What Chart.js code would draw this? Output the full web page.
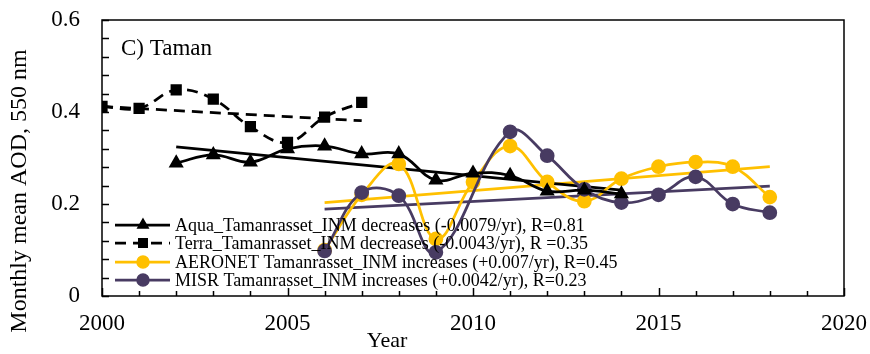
<!DOCTYPE html>
<html>
<head>
<meta charset="utf-8">
<script src="https://cdn.jsdelivr.net/npm/chart.js@4.4.0/dist/chart.umd.min.js"></script>
<style>
  body { margin: 0; background: #fff; }
  canvas { display: block; }
</style>
</head>
<body>
<canvas id="aodChart" width="870" height="354"></canvas>
<script>
// data
const terraYears = [2000, 2001, 2002, 2003, 2004, 2005, 2006, 2007];
const terraValues = [0.412, 0.408, 0.448, 0.428, 0.368, 0.334, 0.389, 0.421];

const aquaYears = [2002, 2003, 2004, 2005, 2006, 2007, 2008, 2009, 2010, 2011, 2012, 2013, 2014];
const aquaValues = [0.289, 0.307, 0.291, 0.320, 0.326, 0.309, 0.309, 0.252, 0.267, 0.262, 0.228, 0.230, 0.222];

const groundYears = [2006, 2007, 2008, 2009, 2010, 2011, 2012, 2013, 2014, 2015, 2016, 2017, 2018];
const aeronetValues = [0.100, 0.220, 0.287, 0.124, 0.248, 0.326, 0.248, 0.206, 0.255, 0.281, 0.291, 0.281, 0.215];
const misrValues = [0.098, 0.225, 0.218, 0.095, null, 0.357, 0.305, 0.232, 0.203, 0.220, 0.259, 0.200, 0.181];

// trend line ends
const aquaTrendYears = [2002, 2014];
const aquaTrend = [0.324, 0.230];
const terraTrendYears = [2000, 2007];
const terraTrend = [0.412, 0.381];
const aeronetTrendYears = [2006, 2018];
const aeronetTrend = [0.203, 0.281];
const misrTrendYears = [2006, 2018];
const misrTrend = [0.189, 0.239];

const xTicks = [2000, 2005, 2010, 2015, 2020];
const yTicks = [0, 0.2, 0.4, 0.6];

const legendLabels = [
    'Aqua_Tamanrasset_INM decreases (-0.0079/yr), R=0.81',
    'Terra_Tamanrasset_INM decreases (-0.0043/yr), R =0.35',
    'AERONET Tamanrasset_INM increases (+0.007/yr), R=0.45',
    'MISR Tamanrasset_INM increases (+0.0042/yr), R=0.23'
];

const YELLOW = '#ffc000';
const PURPLE = '#483b62';
const FONT = '"Liberation Serif", "Times New Roman", serif';
const LINE_W = 2.75;

function pts(xs, ys) {
    return xs.map((x, i) => ({ x: x, y: ys[i] }));
}

function trendSet(xs, ys, color, dash) {
    return {
        data: pts(xs, ys),
        borderColor: color,
        borderWidth: LINE_W,
        borderDash: dash || [],
        pointRadius: 0,
        tension: 0,
        order: 5
    };
}

// frame, inward ticks, panel title, axis titles, legend
const decorPlugin = {
    id: 'decor',
    afterDraw(chart) {
        const ctx = chart.ctx;
        const area = chart.chartArea;
        const xs = chart.scales.x;
        const ys = chart.scales.y;
        ctx.save();
        ctx.strokeStyle = '#000';
        ctx.lineWidth = 1.5;
        ctx.strokeRect(area.left, area.top, area.right - area.left, area.bottom - area.top);

        ctx.beginPath();
        for (let yr = 2000; yr <= 2020; yr++) {
            const px = Math.round(xs.getPixelForValue(yr)) + 0.5;
            const len = (yr % 5 === 0) ? 8 : 5;
            ctx.moveTo(px, area.bottom);
            ctx.lineTo(px, area.bottom - len);
        }
        for (let k = 0; k <= 15; k++) {
            const py = Math.round(ys.getPixelForValue(k * 0.04)) + 0.5;
            ctx.moveTo(area.left, py);
            ctx.lineTo(area.left + 7, py);
        }
        ctx.stroke();

        ctx.fillStyle = '#000';
        ctx.font = '23px ' + FONT;
        ctx.textAlign = 'left';
        ctx.textBaseline = 'alphabetic';
        ctx.fillText('C) Taman', 121, 55);

        ctx.font = '22px ' + FONT;
        ctx.textAlign = 'center';
        ctx.textBaseline = 'middle';
        ctx.fillText('Year', 387, 341);

        ctx.font = '24px ' + FONT;
        ctx.save();
        ctx.translate(20, 191);
        ctx.rotate(-Math.PI / 2);
        ctx.fillText('Monthly mean AOD, 550 nm', 0, 0);
        ctx.restore();

        // legend
        const rows = [225, 243, 262, 280];
        ctx.font = '18px ' + FONT;
        ctx.textAlign = 'left';
        ctx.textBaseline = 'middle';
        for (let i = 0; i < 4; i++) {
            const ds = chart.data.datasets[i];
            const y = rows[i];
            ctx.save();
            ctx.strokeStyle = ds.borderColor;
            ctx.lineWidth = ds.borderWidth;
            ctx.setLineDash(ds.borderDash || []);
            ctx.beginPath();
            ctx.moveTo(115, y);
            ctx.lineTo(170, y);
            ctx.stroke();
            ctx.restore();
            ctx.fillStyle = ds.pointBackgroundColor;
            ctx.strokeStyle = ds.pointBackgroundColor;
            Chart.helpers.drawPoint(ctx, {
                pointStyle: ds.pointStyle,
                radius: ds.pointRadius,
                borderWidth: 1,
                rotation: 0
            }, 143, y);
            ctx.fillStyle = '#000';
            ctx.fillText(legendLabels[i], 175, y + 1);
        }
        ctx.restore();
    }
};

const ctx = document.getElementById('aodChart').getContext('2d');

new Chart(ctx, {
    type: 'line',
    data: {
        datasets: [
            {
                label: legendLabels[0],
                data: pts(aquaYears, aquaValues),
                borderColor: '#000',
                borderWidth: LINE_W,
                pointStyle: 'triangle',
                pointRadius: 6,
                pointBackgroundColor: '#000',
                pointBorderColor: '#000',
                tension: 0.4,
                order: 1
            },
            {
                label: legendLabels[1],
                data: pts(terraYears, terraValues),
                borderColor: '#000',
                borderWidth: LINE_W,
                borderDash: [11, 7],
                pointStyle: 'rect',
                pointRadius: 6,
                pointBackgroundColor: '#000',
                pointBorderColor: '#000',
                tension: 0.4,
                order: 2
            },
            {
                label: legendLabels[2],
                data: pts(groundYears, aeronetValues),
                borderColor: YELLOW,
                borderWidth: LINE_W,
                pointStyle: 'circle',
                pointRadius: 6,
                pointBackgroundColor: YELLOW,
                pointBorderColor: YELLOW,
                tension: 0.4,
                order: 4
            },
            {
                label: legendLabels[3],
                data: pts(groundYears, misrValues),
                borderColor: PURPLE,
                borderWidth: LINE_W,
                pointStyle: 'circle',
                pointRadius: 6,
                pointBackgroundColor: PURPLE,
                pointBorderColor: PURPLE,
                tension: 0.4,
                spanGaps: true,
                order: 3
            },
            trendSet(aquaTrendYears, aquaTrend, '#000'),
            trendSet(terraTrendYears, terraTrend, '#000', [11, 7]),
            trendSet(aeronetTrendYears, aeronetTrend, YELLOW),
            trendSet(misrTrendYears, misrTrend, PURPLE)
        ]
    },
    options: {
        responsive: false,
        animation: false,
        layout: { padding: { top: 20, right: 26, left: 0, bottom: 0 } },
        plugins: {
            legend: { display: false },
            tooltip: { enabled: false }
        },
        scales: {
            x: {
                type: 'linear',
                min: 2000,
                max: 2020,
                afterFit: function(scale) {
                    scale.height = 58;
                    scale.paddingLeft = 0;
                    scale.paddingRight = 0;
                },
                afterBuildTicks: function(scale) { scale.ticks = xTicks.map(v => ({ value: v })); },
                grid: { display: false, drawTicks: false },
                border: { display: false },
                ticks: {
                    color: '#000',
                    padding: 14,
                    maxRotation: 0,
                    font: { family: FONT, size: 23 },
                    callback: v => String(v)
                }
            },
            y: {
                min: 0,
                max: 0.6,
                afterFit: function(scale) {
                    scale.width = 102;
                    scale.paddingTop = 0;
                    scale.paddingBottom = 0;
                },
                afterBuildTicks: function(scale) { scale.ticks = yTicks.map(v => ({ value: v })); },
                grid: { display: false, drawTicks: false },
                border: { display: false },
                ticks: {
                    color: '#000',
                    padding: 22,
                    font: { family: FONT, size: 23 },
                    callback: v => String(v)
                }
            }
        }
    },
    plugins: [decorPlugin]
});
</script>
</body>
</html>
